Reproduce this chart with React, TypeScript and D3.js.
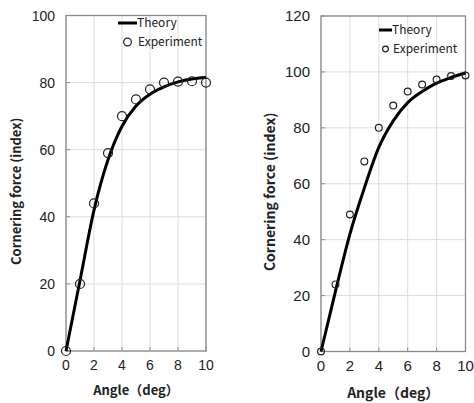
import React from 'react';
import * as d3 from 'd3';

// angle (deg) shared by both panels
const angles = [0, 1, 2, 3, 4, 5, 6, 7, 8, 9, 10];
const xTicks = [0, 2, 4, 6, 8, 10];

// left panel
const leftTheory = [0, 21, 42, 57, 67, 73, 76.5, 78.7, 80.2, 81.1, 81.5];
const leftExperiment = [0, 20, 44, 59, 70, 75, 78, 80, 80.3, 80.4, 80];
const leftYTicks = [0, 20, 40, 60, 80, 100];

// right panel
const rightTheory = [0, 21.5, 42, 58.5, 73, 82.5, 89, 93, 96, 98, 99.6];
const rightExperiment = [0, 24, 49, 68, 80, 88, 93, 95.5, 97.3, 98.5, 98.7];
const rightYTicks = [0, 20, 40, 60, 80, 100, 120];

const yLabel = 'Cornering force (index)';
const xLabel = 'Angle（deg）';
const legendTheory = 'Theory';
const legendExperiment = 'Experiment';

const tickFont = '"Liberation Sans", Arial, sans-serif';
const labelFont = '"Noto Sans CJK JP", "Noto Sans", sans-serif';

type PanelProps = {
  theory: number[];
  experiment: number[];
  yTicks: number[];
  left: number;
  right: number;
  top: number;
  bottom: number;
  tickSize: number;
  labelSize: number;
  yLabelX: number;
  xLabelY: number;
  circleR: number;
  legendX: number;
  legendY: number;
  legendGap: number;
};

const Panel = (p: PanelProps) => {
  const x = d3.scaleLinear().domain([0, 10]).range([p.left, p.right]);
  const y = d3
    .scaleLinear()
    .domain([0, d3.max(p.yTicks) as number])
    .range([p.bottom, p.top]);

  const line = d3
    .line<number>()
    .x((_, i) => x(angles[i]))
    .y(d => y(d))
    .curve(d3.curveMonotoneX);

  const frame = '#8a8a8a';
  const grid = '#dcdcdc';

  return (
    <g>
      {xTicks.map(t => (
        <line key={'gx' + t} x1={x(t)} x2={x(t)} y1={p.top} y2={p.bottom} stroke={grid} />
      ))}
      {p.yTicks.map(t => (
        <line key={'gy' + t} x1={p.left} x2={p.right} y1={y(t)} y2={y(t)} stroke={grid} />
      ))}
      {/* inward ticks */}
      {xTicks.map(t => (
        <line key={'tx' + t} x1={x(t)} x2={x(t)} y1={p.bottom - 4} y2={p.bottom} stroke={frame} />
      ))}
      {p.yTicks.map(t => (
        <line key={'ty' + t} x1={p.left} x2={p.left + 4} y1={y(t)} y2={y(t)} stroke={frame} />
      ))}
      <rect
        x={p.left}
        y={p.top}
        width={p.right - p.left}
        height={p.bottom - p.top}
        fill="none"
        stroke={frame}
        strokeWidth={1.3}
      />
      {xTicks.map(t => (
        <text
          key={'lx' + t}
          x={x(t)}
          y={p.bottom + 19}
          textAnchor="middle"
          fontFamily={tickFont}
          fontSize={p.tickSize}
          fill="#222"
        >
          {t}
        </text>
      ))}
      {p.yTicks.map(t => (
        <text
          key={'ly' + t}
          x={p.left - 11}
          y={y(t)}
          dy="0.36em"
          textAnchor="end"
          fontFamily={tickFont}
          fontSize={p.tickSize}
          fill="#222"
        >
          {t}
        </text>
      ))}
      <text
        x={(p.left + p.right) / 2}
        y={p.xLabelY}
        textAnchor="middle"
        fontFamily={labelFont}
        fontWeight="bold"
        fontSize={p.labelSize}
        fill="#222"
      >
        {xLabel}
      </text>
      <text
        transform={`translate(${p.yLabelX},${(p.top + p.bottom) / 2 + 8}) rotate(-90)`}
        textAnchor="middle"
        dy="0.35em"
        fontFamily={labelFont}
        fontWeight="bold"
        fontSize={p.labelSize}
        fill="#222"
      >
        {yLabel}
      </text>
      <path d={line(p.theory) || ''} fill="none" stroke="#000" strokeWidth={3} />
      {p.experiment.map((v, i) => (
        <circle
          key={'c' + i}
          cx={x(angles[i])}
          cy={y(v)}
          r={p.circleR}
          fill="none"
          stroke="#222"
          strokeWidth={1.2}
        />
      ))}
      {/* legend */}
      <line
        x1={p.legendX - p.legendGap * 2}
        x2={p.legendX}
        y1={p.legendY}
        y2={p.legendY}
        stroke="#000"
        strokeWidth={3}
      />
      <text
        x={p.legendX}
        y={p.legendY}
        dy="0.35em"
        fontFamily={labelFont}
        fontSize={12}
        fill="#222"
      >
        {legendTheory}
      </text>
      <circle
        cx={p.legendX - p.legendGap}
        cy={p.legendY + 19}
        r={p.circleR * 0.85}
        fill="none"
        stroke="#222"
        strokeWidth={1.2}
      />
      <text
        x={p.legendX + 1}
        y={p.legendY + 19}
        dy="0.35em"
        fontFamily={labelFont}
        fontSize={12}
        fill="#222"
      >
        {legendExperiment}
      </text>
    </g>
  );
};

const App = () => (
  <svg width={474} height={403} style={{ position: 'absolute', left: 0, top: 0, background: '#fff' }}>
    <rect width={474} height={403} fill="#fff" />
    <Panel
      theory={leftTheory}
      experiment={leftExperiment}
      yTicks={leftYTicks}
      left={66}
      right={206}
      top={15.5}
      bottom={351}
      tickSize={14}
      labelSize={13}
      yLabelX={16}
      xLabelY={395}
      circleR={4.5}
      legendX={137}
      legendY={23}
      legendGap={9.5}
    />
    <Panel
      theory={rightTheory}
      experiment={rightExperiment}
      yTicks={rightYTicks}
      left={321}
      right={465.5}
      top={16}
      bottom={351.5}
      tickSize={15}
      labelSize={14}
      yLabelX={270}
      xLabelY={398}
      circleR={3.4}
      legendX={392}
      legendY={30}
      legendGap={6.5}
    />
  </svg>
);

export default App;
